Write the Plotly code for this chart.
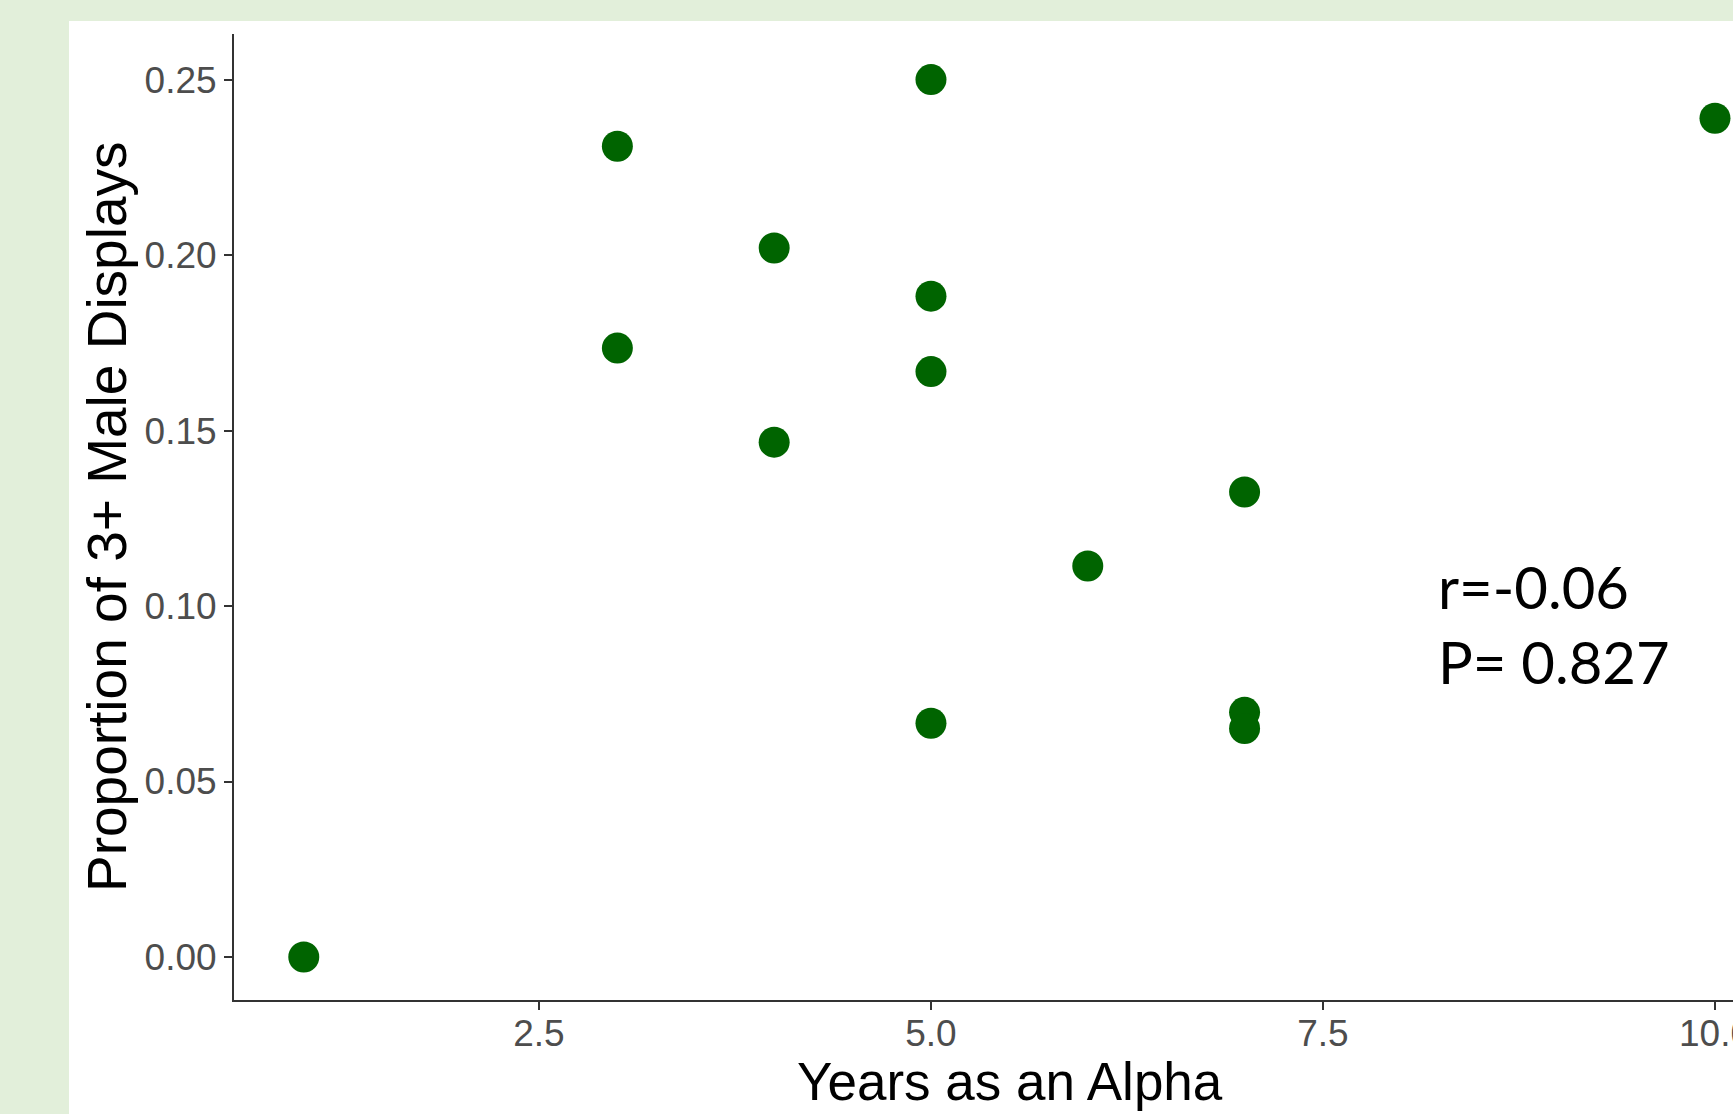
import plotly.graph_objects as go

# Data
years_alpha = [1, 3, 3, 4, 4, 5, 5, 5, 5, 6, 7, 7, 7, 10]
prop_3plus = [0.000, 0.231, 0.1735, 0.202, 0.1467, 0.250, 0.1883, 0.1668, 0.0666,
              0.1114, 0.1325, 0.0697, 0.0651, 0.239]

x_tickvals = [2.5, 5.0, 7.5, 10.0]
x_ticktext = ["2.5", "5.0", "7.5", "10.0"]
y_tickvals = [0.00, 0.05, 0.10, 0.15, 0.20, 0.25]
y_ticktext = ["0.00", "0.05", "0.10", "0.15", "0.20", "0.25"]

W, H = 1733, 1114
ML, MR, MT, MB = 234, 0, 34, 114
PW, PH = W - ML - MR, H - MT - MB

def px_x(px):
    return (px - ML) / PW

def px_y(py):
    return (H - MB - py) / PH

fig = go.Figure()
fig.add_trace(go.Scatter(
    x=years_alpha, y=prop_3plus, mode="markers",
    marker=dict(color="#006400", size=31, line=dict(width=0)),
    showlegend=False, cliponaxis=False, hoverinfo="skip",
))

axis_font = dict(family="Liberation Sans, Arial, sans-serif", size=37, color="#4D4D4D")

fig.update_layout(
    width=W, height=H, autosize=False,
    margin=dict(l=ML, r=MR, t=MT, b=MB, pad=0, autoexpand=False),
    paper_bgcolor="#E2EFDA",
    plot_bgcolor="white",
    xaxis=dict(
        range=[0.555, 10.115], tickvals=x_tickvals, ticktext=x_ticktext,
        showgrid=False, zeroline=False, showline=True, linecolor="#333333", linewidth=2,
        ticks="outside", ticklen=8, tickwidth=2, tickcolor="#333333",
        tickfont=axis_font, ticklabelstandoff=-8, ticklabeloverflow="allow",
        automargin=False,
    ),
    yaxis=dict(
        range=[-0.01226, 0.263], tickvals=y_tickvals, ticktext=y_ticktext,
        showgrid=False, zeroline=False, showline=True, linecolor="#333333", linewidth=2,
        ticks="outside", ticklen=8, tickwidth=2, tickcolor="#333333",
        tickfont=axis_font, ticklabelstandoff=0, ticklabeloverflow="allow",
        automargin=False,
    ),
    shapes=[dict(
        type="rect", xref="paper", yref="paper",
        x0=px_x(69), x1=px_x(W + 5), y0=px_y(H + 5), y1=px_y(21),
        fillcolor="white", line=dict(width=0), layer="below",
    )],
    annotations=[
        dict(text="Years as an Alpha", xref="paper", yref="paper",
             x=px_x(1010), y=px_y(1081), xanchor="center", yanchor="middle",
             showarrow=False,
             font=dict(family="Liberation Sans, Arial, sans-serif", size=53, color="black")),
        dict(text="Proportion of 3+ Male Displays", xref="paper", yref="paper",
             x=px_x(107), y=px_y(517), xanchor="center", yanchor="middle",
             textangle=-90, showarrow=False,
             font=dict(family="Liberation Sans, Arial, sans-serif", size=55, color="black")),
        dict(text="r=-0.06<br>P= 0.827", xref="paper", yref="paper",
             x=px_x(1436), y=px_y(624), xanchor="left", yanchor="middle", align="left",
             showarrow=False,
             font=dict(family="Lato, Noto Sans, sans-serif", size=58, color="black")),
    ],
)

fig.write_html(
    "out.html",
    config={"displayModeBar": False},
    post_script="document.body.style.margin='0';document.body.style.background='#E2EFDA';",
)
